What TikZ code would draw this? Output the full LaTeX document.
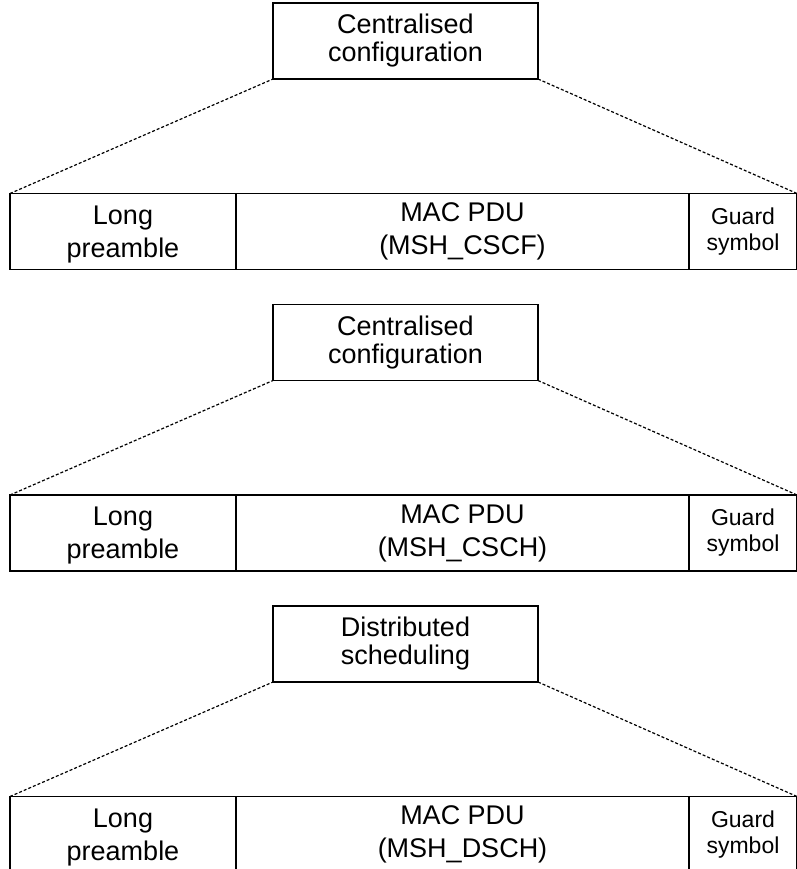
\documentclass[tikz,border=0pt]{standalone}
\usepackage{fontspec}
\setmainfont{Liberation Sans}
\begin{document}
\begin{tikzpicture}[x=1pt,y=-1pt,
  cell/.style={draw,line width=1.4pt,rectangle,inner sep=0pt,outer sep=0pt,
    align=center,anchor=north west,minimum height=76pt},
  hdrlbl/.style={font=\fontsize{27}{28}\selectfont},
  lbl/.style={font=\fontsize{27}{33}\selectfont},
  widelbl/.style={align=center,inner sep=0pt,font=\fontsize{27}{33}\selectfont},
  small/.style={font=\fontsize{23}{26}\selectfont},
  zoomline/.style={line width=1.2pt,dash pattern=on 3pt off 2pt}]
\useasboundingbox (0,0) rectangle (796,869);
\foreach \i/\ytop/\title/\pdu in {
    1/3/{Centralised\\configuration}/{MSH\_CSCF},
    2/304.5/{Centralised\\configuration}/{MSH\_CSCH},
    3/606/{Distributed\\scheduling}/{MSH\_DSCH}}{
  % header box naming the message type
  \node[cell,hdrlbl,minimum width=265pt] (hdr\i) at (273,\ytop) {\title};
  % burst layout: preamble, MAC PDU, guard symbol
  \node[cell,minimum width=226pt] (pre\i) at (10,\ytop+190.5) {};
  \node[widelbl,yshift=-3pt] (pretext\i) at (pre\i.center) {Long\\preamble};
  \node[cell,lbl,minimum width=453pt] (pdu\i) at (pre\i.north east) {MAC PDU\\(\pdu)};
  \node[cell,small,minimum width=108pt] (grd\i) at (pdu\i.north east) {Guard\\symbol};
  % expansion lines from the header box to the burst
  \draw[zoomline] (pre\i.north west) -- (hdr\i.south west);
  \draw[zoomline] (hdr\i.south east) -- (grd\i.north east);
}
\end{tikzpicture}
\end{document}
